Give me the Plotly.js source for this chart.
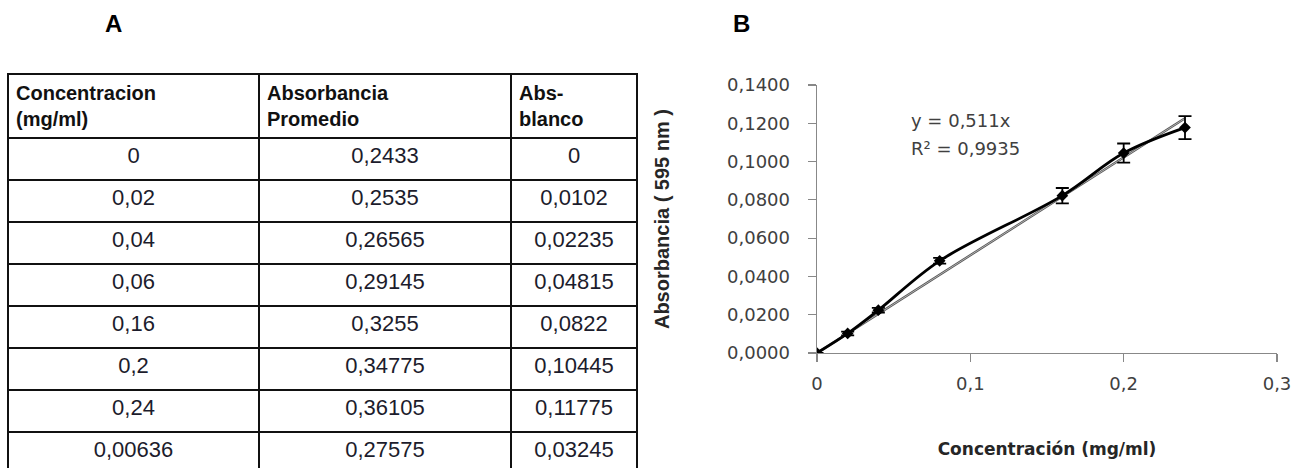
<!DOCTYPE html>
<html><head><meta charset="utf-8">
<script src="https://cdn.plot.ly/plotly-3.0.1.min.js"></script>
<style>html,body{margin:0;padding:0;background:#fff}#chart{width:1304px;height:468px}</style>
</head><body><div id="chart"></div>
<script>
// ---- Table (panel A) ----
const tableHeaders = ["<b>Concentracion<br>(mg/ml)</b>", "<b>Absorbancia<br>Promedio</b>", "<b>Abs-<br>blanco</b>"];
const tableConc = ["0", "0,02", "0,04", "0,06", "0,16", "0,2", "0,24", "0,00636"];
const tableAbsProm = ["0,2433", "0,2535", "0,26565", "0,29145", "0,3255", "0,34775", "0,36105", "0,27575"];
const tableAbsBlanco = ["0", "0,0102", "0,02235", "0,04815", "0,0822", "0,10445", "0,11775", "0,03245"];

// ---- Chart (panel B) ----
const plotX = [0, 0.02, 0.04, 0.08, 0.16, 0.2, 0.24];
const plotY = [0, 0.0102, 0.02235, 0.04815, 0.0822, 0.10445, 0.11775];
const plotErr = [0, 0.001, 0.0012, 0.0015, 0.004, 0.005, 0.006];
const trendX = [0, 0.24];
const trendY = [0, 0.1226];
const xTicks = [0, 0.1, 0.2, 0.3];
const xTickLabels = ["0", "0,1", "0,2", "0,3"];
const yTicks = [0, 0.02, 0.04, 0.06, 0.08, 0.10, 0.12, 0.14];
const yTickLabels = ["0,0000", "0,0200", "0,0400", "0,0600", "0,0800", "0,1000", "0,1200", "0,1400"];
const eqText = ["y = 0,511x", "R² = 0,9935"];
const eqX = [0.094, 0.097];
const eqY = [0.1217, 0.107];

const W = 1304, H = 468;
const px = v => v / W, py = v => 1 - v / H;
const chartFont = 'DejaVu Sans, Verdana, sans-serif';
const tableFont = 'Liberation Sans, Arial, sans-serif';

const traces = [
  {
    type: 'table',
    domain: {x: [px(8), px(637)], y: [0, py(74)]},
    columnwidth: [251, 252, 126],
    header: {
      values: tableHeaders,
      align: 'left',
      height: 62,
      line: {color: '#111', width: 1.8},
      fill: {color: '#fff'},
      font: {family: tableFont, size: 20, color: '#111'}
    },
    cells: {
      values: [tableConc, tableAbsProm, tableAbsBlanco],
      align: 'center',
      height: 42,
      line: {color: '#111', width: 1.8},
      fill: {color: '#fff'},
      font: {family: tableFont, size: 22, color: '#1c1c2c'}
    }
  },
  {
    type: 'scatter', mode: 'lines',
    x: trendX, y: trendY,
    line: {color: '#555', width: 2.4},
    hoverinfo: 'skip', showlegend: false
  },
  {
    type: 'scatter', mode: 'lines',
    x: trendX, y: trendY,
    line: {color: '#c8c8c8', width: 0.8},
    hoverinfo: 'skip', showlegend: false
  },
  {
    type: 'scatter', mode: 'lines+markers',
    x: plotX, y: plotY,
    line: {color: '#000', width: 2.8, shape: 'spline', smoothing: 1},
    marker: {symbol: 'diamond', size: 9, color: '#000'},
    error_y: {type: 'data', array: plotErr, visible: true, color: '#000', thickness: 1.8, width: 6.5},
    showlegend: false
  }
];

const layout = {
  width: W, height: H,
  margin: {l: 0, r: 0, t: 0, b: 0},
  paper_bgcolor: '#fff', plot_bgcolor: '#fff',
  separators: ',.',
  showlegend: false,
  xaxis: {
    domain: [px(817), px(1277)],
    range: [0, 0.3],
    tickvals: xTicks, ticktext: xTickLabels,
    ticks: 'outside', ticklen: 8, tickcolor: '#888', tickwidth: 1.2,
    showline: true, linecolor: '#888', linewidth: 1.4,
    showgrid: false, zeroline: false,
    ticklabelstandoff: 6,
    tickfont: {family: chartFont, size: 18, color: '#404040'},
    title: {text: '<b>Concentración (mg/ml)</b>', standoff: 50,
            font: {family: chartFont, size: 17, color: '#262626'}}
  },
  yaxis: {
    domain: [py(353), py(85)],
    range: [0, 0.14],
    tickvals: yTicks, ticktext: yTickLabels,
    ticks: 'outside', ticklen: 8, tickcolor: '#888', tickwidth: 1.2,
    showline: true, linecolor: '#888', linewidth: 1.4,
    showgrid: false, zeroline: false,
    ticklabelstandoff: 14,
    tickfont: {family: chartFont, size: 18, color: '#404040'},
    title: {text: '<b>Absorbancia ( 595 nm )</b>', standoff: 52,
            font: {family: tableFont, size: 20, color: '#262626'}}
  },
  annotations: [
    {text: '<b>A</b>', xref: 'paper', yref: 'paper', x: px(113), y: py(23), xanchor: 'center', yanchor: 'middle',
     showarrow: false, font: {family: tableFont, size: 24, color: '#000'}},
    {text: '<b>B</b>', xref: 'paper', yref: 'paper', x: px(741), y: py(23), xanchor: 'center', yanchor: 'middle',
     showarrow: false, font: {family: tableFont, size: 24, color: '#000'}}
  ].concat(eqText.map((t, i) => ({
    text: t, xref: 'x', yref: 'y', x: eqX[i], y: eqY[i], xanchor: 'center', yanchor: 'middle', showarrow: false,
    font: {family: chartFont, size: 18, color: '#404040'}
  })))
};

Plotly.newPlot('chart', traces, layout, {staticPlot: true, displayModeBar: false});
</script>
</body></html>
